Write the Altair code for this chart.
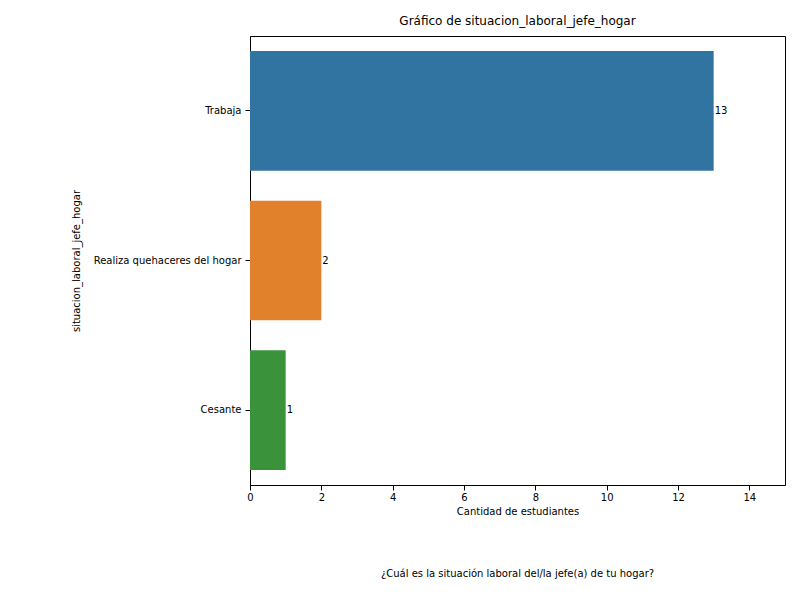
import altair as alt
import pandas as pd

categorias = ["Trabaja", "Realiza quehaceres del hogar", "Cesante"]
cantidades = [13, 2, 1]
colores = ["#3274a1", "#e1812c", "#3a923a"]

df = pd.DataFrame({"situacion": categorias, "n": cantidades, "color": colores})

fuente = "DejaVu Sans"

base = alt.Chart(df).encode(
    y=alt.Y("situacion:N", sort=categorias, title="situacion_laboral_jefe_hogar",
            scale=alt.Scale(paddingInner=0.2, paddingOuter=0.1),
            axis=alt.Axis(labelFont=fuente, labelFontSize=10, labelColor="black",
                          titleFont=fuente, titleFontSize=10, titleFontWeight="normal",
                          titleColor="black", titlePadding=12, tickColor="black",
                          domainColor="black", labelPadding=4)),
)

barras = base.mark_bar().encode(
    x=alt.X("n:Q", title="Cantidad de estudiantes",
            scale=alt.Scale(domain=[0, 15], nice=False),
            axis=alt.Axis(values=list(range(0, 16, 2)), grid=False, labelFont=fuente,
                          labelFontSize=10, labelColor="black", titleFont=fuente,
                          titleFontSize=10, titleFontWeight="normal", titleColor="black",
                          tickColor="black", domainColor="black", labelFlush=False)),
    color=alt.Color("color:N", scale=None),
)

etiquetas = base.mark_text(align="left", dx=1, font=fuente, fontSize=10, color="black").encode(
    x="n:Q", text="n:Q"
)

pie = alt.Chart(pd.DataFrame({"t": ["¿Cuál es la situación laboral del/la jefe(a) de tu hogar?"]})).mark_text(
    font=fuente, fontSize=10, color="black"
).encode(x=alt.value(267.5), y=alt.value(538), text="t:N")

chart = (barras + etiquetas + pie).properties(
    width=535, height=449,
    title=alt.TitleParams("Gráfico de situacion_laboral_jefe_hogar", font=fuente,
                          fontSize=12, fontWeight="normal", color="black", offset=8),
    autosize=alt.AutoSizeParams(type="none"),
    padding={"left": 242, "top": 28, "right": 7, "bottom": 100},
).configure_view(stroke="black", strokeWidth=1)

chart.save("out.html", embed_options={"renderer": "svg", "actions": False})
